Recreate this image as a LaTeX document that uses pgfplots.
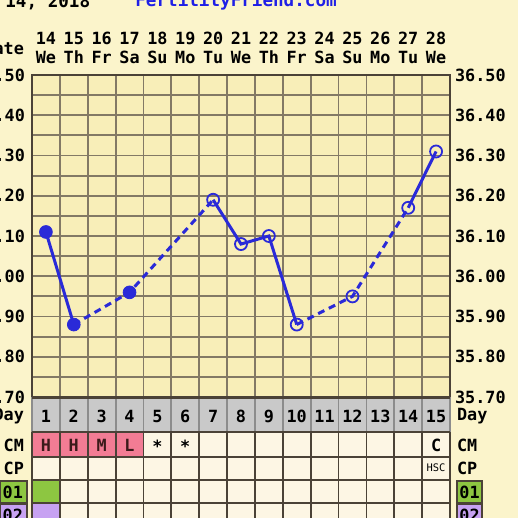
\documentclass[border=0pt]{standalone}
\usepackage{fontspec}
\setmainfont{DejaVu Sans Mono}
\usepackage{pgfplots}
\pgfplotsset{compat=1.18}

\definecolor{outerbg}{HTML}{FBF4CB}
\definecolor{plotbg}{HTML}{F8EEB8}
\definecolor{gridc}{HTML}{837965}
\definecolor{darkc}{HTML}{4B4237}
\definecolor{cellbg}{HTML}{FDF6E4}
\definecolor{daygray}{HTML}{C9C9C9}
\definecolor{daysep}{HTML}{8C8C8C}
\definecolor{cmpink}{HTML}{F27C94}
\definecolor{green01}{HTML}{8DC641}
\definecolor{purple02}{HTML}{C7A2F2}
\definecolor{ffblue}{HTML}{2A2AD8}
\definecolor{titleblue}{HTML}{1F1FE6}
\definecolor{cmtext}{HTML}{3B1A1A}

\newcommand\lab{\fontsize{8.4}{9.75}\selectfont\bfseries}

\begin{document}
\begin{tikzpicture}
% 1 px of the reference = 0.5pt, origin at the top-left corner
\path[use as bounding box, clip] (0pt,0pt) rectangle (259pt,-259pt);
\fill[outerbg] (0pt,0pt) rectangle (259pt,-259pt);

% temperature chart
\begin{axis}[
  at={(16pt,-198.5pt)}, anchor=south west, scale only axis,
  width=209pt, height=161pt,
  xmin=0.5, xmax=15.5, ymin=35.7, ymax=36.5,
  axis background/.style={fill=plotbg},
  xtick={1,...,15},
  xticklabels={{14\\We},{15\\Th},{16\\Fr},{17\\Sa},{18\\Su},{19\\Mo},{20\\Tu},{21\\We},{22\\Th},{23\\Fr},{24\\Sa},{25\\Su},{26\\Mo},{27\\Tu},{28\\We}},
  xticklabel pos=upper,
  xticklabel style={align=center, font=\lab, yshift=2pt},
  minor xtick={0.5,1.5,...,15.5},
  ytick={35.7,35.8,35.9,36.0,36.1,36.2,36.3,36.4,36.5},
  minor ytick={35.75,35.85,35.95,36.05,36.15,36.25,36.35,36.45},
  yticklabel style={font=\lab, /pgf/number format/.cd, fixed, fixed zerofill, precision=2, assume math mode=true},
  xmajorgrids=false, xminorgrids=true, ymajorgrids=true, yminorgrids=true,
  grid style={draw=gridc, line width=0.9pt},
  minor grid style={draw=gridc, line width=0.9pt},
  major tick length=0pt, minor tick length=0pt,
  axis line style={draw=darkc, line width=1pt},
  unbounded coords=jump,
]
\addplot[draw=ffblue, line width=1.5pt] coordinates {
  (1,36.11)(2,35.88)(3,nan)(7,36.19)(8,36.08)(9,36.10)(10,35.88)(11,nan)(14,36.17)(15,36.31)};
\addplot[draw=ffblue, line width=1.5pt, dash pattern=on 3.5pt off 2.5pt] coordinates {
  (2,35.88)(4,35.96)(7,36.19)(8,nan)(10,35.88)(12,35.95)(14,36.17)};
\addplot[only marks, mark=*, mark size=3.2pt, mark options={draw=ffblue, fill=ffblue}] coordinates {
  (1,36.11)(2,35.88)(4,35.96)};
\addplot[only marks, mark=o, mark size=3pt, mark options={draw=ffblue, line width=0.9pt}] coordinates {
  (7,36.19)(8,36.08)(9,36.10)(10,35.88)(12,35.95)(14,36.17)(15,36.31)};
\end{axis}

% right-hand temperature labels
\begin{axis}[
  at={(16pt,-198.5pt)}, anchor=south west, scale only axis,
  width=209pt, height=161pt,
  xmin=0.5, xmax=15.5, ymin=35.7, ymax=36.5,
  xtick=\empty,
  ytick={35.7,35.8,35.9,36.0,36.1,36.2,36.3,36.4,36.5},
  yticklabel pos=right,
  yticklabel style={font=\lab, xshift=-1pt, /pgf/number format/.cd, fixed, fixed zerofill, precision=2, assume math mode=true},
  major tick length=0pt,
  axis line style={draw=none},
]
\addplot[draw=none] coordinates {(1,36)};
\end{axis}

% table under the chart (y in reference pixels, downwards)
\begin{axis}[
  at={(16pt,-198.5pt)}, anchor=north west, scale only axis,
  width=209pt, height=66.5pt,
  xmin=0.5, xmax=15.5, ymin=397, ymax=530, y dir=reverse,
  hide axis, clip=false,
]
\addplot[draw=none] coordinates {(1,400)};
\fill[daygray] (axis cs:0.5,397) rectangle (axis cs:15.5,432);
\fill[cellbg] (axis cs:0.5,432) rectangle (axis cs:15.5,530);
\fill[cmpink] (axis cs:0.5,432) rectangle (axis cs:4.5,457);
\fill[green01] (axis cs:0.5,480) rectangle (axis cs:1.5,503);
\fill[purple02] (axis cs:0.5,503) rectangle (axis cs:1.5,530);
\pgfplotsinvokeforeach{0.5,1.5,...,15.5}{
  \draw[daysep, line width=0.9pt] (axis cs:#1,397) -- (axis cs:#1,432);
  \draw[darkc, line width=0.9pt] (axis cs:#1,432) -- (axis cs:#1,530);
}
\pgfplotsinvokeforeach{432,457,480,503}{
  \draw[darkc, line width=0.9pt] (axis cs:0.5,#1) -- (axis cs:15.5,#1);
}
\draw[darkc, line width=1.4pt] (axis cs:0.5,397.5) -- (axis cs:15.5,397.5);
\pgfplotsinvokeforeach{1,...,15}{
  \node[font=\lab] at (axis cs:#1,416) {#1};
}
\node[font=\lab, text=cmtext] at (axis cs:1,445) {H};
\node[font=\lab, text=cmtext] at (axis cs:2,445) {H};
\node[font=\lab, text=cmtext] at (axis cs:3,445) {M};
\node[font=\lab, text=cmtext] at (axis cs:4,445) {L};
\node[font=\lab] at (axis cs:5,446) {*};
\node[font=\lab] at (axis cs:6,446) {*};
\node[font=\lab] at (axis cs:15,445) {C};
\node[font=\fontsize{5.2}{6}\selectfont] at (axis cs:15,468) {HSC};
\end{axis}

% titles and row labels, in reference pixels
\begin{scope}[x=0.5pt, y=-0.5pt]
\node[font=\fontsize{8.8}{10}\selectfont\bfseries, anchor=base west, inner sep=0pt] at (5,8) {14, 2018};
\node[font=\fontsize{8.8}{10}\selectfont\bfseries, text=titleblue, anchor=base west, inner sep=0pt] at (135,7) {FertilityFriend.com};
\node[font=\lab, anchor=east] at (31,48) {Date};

\node[font=\lab, anchor=east] at (31,416) {Day};
\node[font=\lab, anchor=east] at (31,445) {CM};
\node[font=\lab, anchor=east] at (31,468) {CP};
\fill[green01] (0,481) rectangle (27,503);
\draw[darkc, line width=0.6pt] (0,481) rectangle (27,503);
\node[font=\lab, anchor=east] at (30,492) {01};
\fill[purple02] (0,504) rectangle (27,530);
\draw[darkc, line width=0.6pt] (0,504) rectangle (27,530);
\node[font=\lab, anchor=east] at (30,515) {02};

\node[font=\lab, anchor=west] at (450,416) {Day};
\node[font=\lab, anchor=west] at (450,445) {CM};
\node[font=\lab, anchor=west] at (450,468) {CP};
\fill[green01] (457,481) rectangle (482,503);
\draw[darkc, line width=0.6pt] (457,481) rectangle (482,503);
\node[font=\lab] at (469.5,492) {01};
\fill[purple02] (457,504) rectangle (482,530);
\draw[darkc, line width=0.6pt] (457,504) rectangle (482,530);
\node[font=\lab] at (469.5,515) {02};
\end{scope}
\end{tikzpicture}
\end{document}
